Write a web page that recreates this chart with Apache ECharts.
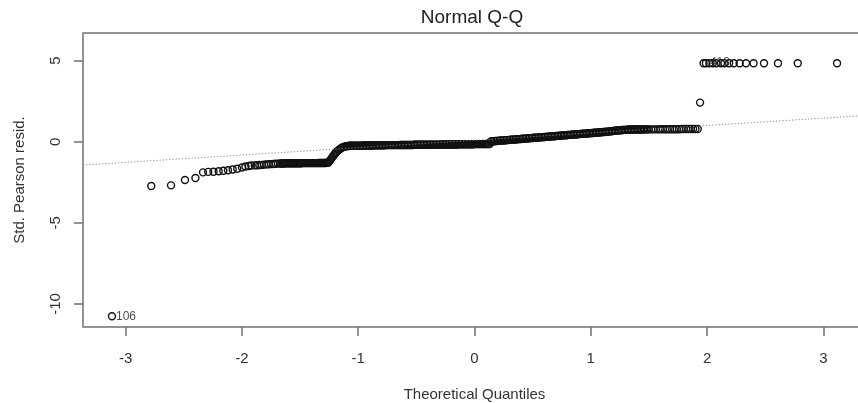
<!DOCTYPE html>
<html><head><meta charset="utf-8">
<script src="https://cdn.jsdelivr.net/npm/echarts@6/dist/echarts.min.js"></script>
<style>html,body{margin:0;padding:0;background:#fff}#c{width:858px;height:403px}</style>
</head><body><div id="c"></div>
<script>
const titleText = 'Normal Q-Q';
const xName = 'Theoretical Quantiles';
const yName = 'Std. Pearson resid.';
const xTicks = [-3, -2, -1, 0, 1, 2, 3];
const yTicks = [-10, -5, 0, 5];

// lower tail
const leftTail = [[-3.118,-10.76],[-2.78,-2.73],[-2.61,-2.69],[-2.49,-2.36],[-2.40,-2.24]];
// lower shelf
const lowerShelf = [[-2.335,-1.89],[-2.29,-1.86],[-2.245,-1.85],[-2.20,-1.82],[-2.16,-1.79],[-2.12,-1.76],[-2.08,-1.71],[-2.04,-1.67],
  [-2.00,-1.59],[-1.97,-1.53],[-1.94,-1.50],[-1.92,-1.47],[-1.89,-1.46],[-1.87,-1.45],[-1.85,-1.44],[-1.83,-1.43],[-1.81,-1.41],
  [-1.79,-1.40],[-1.77,-1.39],[-1.75,-1.38],[-1.73,-1.37],[-1.71,-1.36],[-1.69,-1.35],[-1.67,-1.34],
  [-1.66,-1.34],[-1.65,-1.34],[-1.64,-1.34],[-1.63,-1.33],[-1.62,-1.33],[-1.61,-1.33],[-1.60,-1.33],[-1.59,-1.33],[-1.58,-1.33],
  [-1.57,-1.33],[-1.56,-1.33],[-1.55,-1.33],[-1.54,-1.33],[-1.53,-1.33],[-1.52,-1.33],[-1.51,-1.33],[-1.50,-1.33],[-1.49,-1.33],
  [-1.48,-1.32],[-1.47,-1.32],[-1.46,-1.32],[-1.45,-1.32],[-1.44,-1.32],[-1.43,-1.32],[-1.42,-1.32],[-1.41,-1.32],[-1.40,-1.32],
  [-1.39,-1.32],[-1.38,-1.32],[-1.37,-1.32],[-1.36,-1.32],[-1.35,-1.32],[-1.34,-1.31],[-1.33,-1.31],[-1.32,-1.31],[-1.31,-1.31],
  [-1.30,-1.31],[-1.29,-1.31],[-1.28,-1.31],[-1.27,-1.30],[-1.26,-1.30]];
// steep rise
const rise = [[-1.255,-1.27],[-1.245,-1.18],[-1.235,-1.08],[-1.225,-0.98],[-1.215,-0.88],[-1.205,-0.79],[-1.195,-0.70],
  [-1.185,-0.62],[-1.175,-0.55],[-1.165,-0.49],[-1.155,-0.44],[-1.145,-0.39],[-1.135,-0.35],[-1.125,-0.32],[-1.115,-0.30],
  [-1.105,-0.28],[-1.095,-0.27],[-1.085,-0.26],[-1.075,-0.25],[-1.065,-0.24]];
// middle flat band
const middle = [
  [-1.06,-0.24],[-1.05,-0.24],[-1.04,-0.24],[-1.03,-0.24],[-1.02,-0.24],[-1.01,-0.24],[-1.00,-0.24],[-0.99,-0.24],[-0.98,-0.24],[-0.97,-0.24],
  [-0.96,-0.23],[-0.95,-0.23],[-0.94,-0.23],[-0.93,-0.23],[-0.92,-0.23],[-0.91,-0.23],[-0.90,-0.23],[-0.89,-0.23],[-0.88,-0.23],[-0.87,-0.23],
  [-0.86,-0.22],[-0.85,-0.22],[-0.84,-0.22],[-0.83,-0.22],[-0.82,-0.22],[-0.81,-0.22],[-0.80,-0.22],[-0.79,-0.22],[-0.78,-0.22],[-0.77,-0.22],
  [-0.76,-0.21],[-0.75,-0.21],[-0.74,-0.21],[-0.73,-0.21],[-0.72,-0.21],[-0.71,-0.21],[-0.70,-0.21],[-0.69,-0.21],[-0.68,-0.21],[-0.67,-0.21],
  [-0.66,-0.21],[-0.65,-0.21],
  [-0.64,-0.20],[-0.63,-0.20],[-0.62,-0.20],[-0.61,-0.20],[-0.60,-0.20],[-0.59,-0.20],[-0.58,-0.20],[-0.57,-0.20],[-0.56,-0.20],[-0.55,-0.20],
  [-0.54,-0.20],[-0.53,-0.20],
  [-0.52,-0.19],[-0.51,-0.19],[-0.50,-0.19],[-0.49,-0.19],[-0.48,-0.19],[-0.47,-0.19],[-0.46,-0.19],[-0.45,-0.19],[-0.44,-0.19],[-0.43,-0.19],
  [-0.42,-0.19],[-0.41,-0.19],
  [-0.40,-0.18],[-0.39,-0.18],[-0.38,-0.18],[-0.37,-0.18],[-0.36,-0.18],[-0.35,-0.18],[-0.34,-0.18],[-0.33,-0.18],[-0.32,-0.18],[-0.31,-0.18],
  [-0.30,-0.18],[-0.29,-0.18],
  [-0.28,-0.17],[-0.27,-0.17],[-0.26,-0.17],[-0.25,-0.17],[-0.24,-0.17],[-0.23,-0.17],[-0.22,-0.17],[-0.21,-0.17],[-0.20,-0.17],[-0.19,-0.17],
  [-0.18,-0.17],[-0.17,-0.17],[-0.16,-0.17],[-0.15,-0.17],
  [-0.14,-0.16],[-0.13,-0.16],[-0.12,-0.16],[-0.11,-0.16],[-0.10,-0.16],[-0.09,-0.16],[-0.08,-0.16],[-0.07,-0.16],[-0.06,-0.16],[-0.05,-0.16],
  [-0.04,-0.16],[-0.03,-0.16],[-0.02,-0.16],[-0.01,-0.16],
  [0.00,-0.15],[0.01,-0.15],[0.02,-0.15],[0.03,-0.15],[0.04,-0.15],[0.05,-0.15],[0.06,-0.15],[0.07,-0.15],[0.08,-0.15],[0.09,-0.15],
  [0.10,-0.15],[0.11,-0.15],[0.12,-0.15],[0.13,-0.15]];
// upper band
const upper = [[0.14,0.01],
  [0.15,0.02],[0.16,0.03],[0.17,0.03],[0.18,0.04],[0.19,0.04],[0.20,0.05],[0.21,0.06],[0.22,0.06],[0.23,0.07],[0.24,0.07],
  [0.25,0.08],[0.26,0.09],[0.27,0.09],[0.28,0.10],[0.29,0.10],[0.30,0.11],[0.31,0.12],[0.32,0.12],[0.33,0.13],[0.34,0.13],
  [0.35,0.14],[0.36,0.15],[0.37,0.15],[0.38,0.16],[0.39,0.16],[0.40,0.17],[0.41,0.18],[0.42,0.18],[0.43,0.19],[0.44,0.19],
  [0.45,0.20],[0.46,0.21],[0.47,0.21],[0.48,0.22],[0.49,0.22],[0.50,0.23],[0.51,0.24],[0.52,0.24],[0.53,0.25],[0.54,0.25],
  [0.55,0.26],[0.56,0.27],[0.57,0.27],[0.58,0.28],[0.59,0.28],[0.60,0.29],[0.61,0.30],[0.62,0.30],[0.63,0.31],[0.64,0.31],
  [0.65,0.32],[0.66,0.33],[0.67,0.33],[0.68,0.34],[0.69,0.34],[0.70,0.35],[0.71,0.36],[0.72,0.36],[0.73,0.37],[0.74,0.37],
  [0.75,0.38],[0.76,0.39],[0.77,0.39],[0.78,0.40],[0.79,0.40],[0.80,0.41],[0.81,0.42],[0.82,0.42],[0.83,0.43],[0.84,0.43],
  [0.85,0.44],[0.86,0.45],[0.87,0.45],[0.88,0.46],[0.89,0.46],[0.90,0.47],[0.91,0.48],[0.92,0.48],[0.93,0.49],[0.94,0.49],
  [0.95,0.50],[0.96,0.51],[0.97,0.51],[0.98,0.52],[0.99,0.52],[1.00,0.53],[1.01,0.54],[1.02,0.54],[1.03,0.55],[1.04,0.55],
  [1.05,0.56],[1.06,0.57],[1.07,0.57],[1.08,0.58],[1.09,0.58],[1.10,0.59],[1.11,0.60],[1.12,0.60],[1.13,0.61],[1.14,0.61],
  [1.15,0.62],[1.16,0.63],[1.17,0.64],[1.18,0.65],[1.19,0.66],[1.20,0.67],[1.21,0.68],[1.22,0.69],[1.23,0.69],[1.24,0.70],
  [1.25,0.71],[1.26,0.71],[1.27,0.72],[1.28,0.72],[1.29,0.73],[1.30,0.73],[1.31,0.74],[1.32,0.74],[1.33,0.75],[1.34,0.75],
  [1.35,0.75],[1.36,0.75],[1.37,0.75],[1.38,0.75],[1.39,0.75],[1.40,0.75],[1.41,0.75],[1.42,0.75],[1.43,0.75],[1.44,0.75],
  [1.45,0.76],[1.46,0.76],[1.47,0.76],[1.48,0.76],[1.49,0.76],[1.50,0.76],
  [1.52,0.76],[1.54,0.76],[1.56,0.76],[1.58,0.76],[1.60,0.77],[1.62,0.77],[1.64,0.77],[1.66,0.77],[1.68,0.77],[1.70,0.77],
  [1.72,0.77],[1.74,0.77],[1.76,0.77],[1.78,0.78],[1.80,0.78],[1.82,0.78],[1.84,0.78],[1.86,0.78],[1.88,0.78],[1.90,0.78],[1.92,0.78]];
// upper tail
const upperTail = [[1.94,2.41],[1.97,4.84],[1.99,4.84],[2.02,4.84],[2.05,4.84],[2.08,4.84],[2.12,4.84],[2.15,4.84],[2.19,4.84],
  [2.23,4.84],[2.28,4.84],[2.335,4.84],[2.40,4.84],[2.49,4.84],[2.61,4.84],[2.78,4.84],[3.118,4.84]];
// reference line end points
const refLine = [[-3.367,-1.44],[3.367,1.62]];
// labelled points
const labelled = [[-3.118,-10.76,'106'],[1.99,4.84,'413']];

const allPoints = [].concat(leftTail, lowerShelf, rise, middle, upper, upperTail);
const FONT = '"Liberation Sans", Arial, sans-serif';

const chart = echarts.init(document.getElementById('c'), null, {renderer: 'canvas'});
chart.setOption({
  animation: false,
  backgroundColor: '#ffffff',
  grid: {left: 83, right: -8, top: 33, height: 294, show: true, borderColor: '#707070', borderWidth: 1.5,
    containLabel: false, outerBoundsMode: 'none'},
  graphic: [{type: 'text', x: 472, y: 18, style: {text: titleText, font: '19px ' + FONT, fill: '#222', textAlign: 'center', textVerticalAlign: 'middle'}}],
  xAxis: {
    type: 'value', min: -3.367, max: 3.367,
    name: xName, nameLocation: 'middle', nameGap: 60,
    nameTextStyle: {fontFamily: FONT, fontSize: 15, color: '#333'},
    axisLine: {show: false, onZero: false},
    splitLine: {show: false},
    axisTick: {show: true, inside: false, length: 9, lineStyle: {color: '#707070', width: 1.5}, customValues: xTicks},
    axisLabel: {show: true, margin: 24, fontFamily: FONT, fontSize: 15, color: '#333', customValues: xTicks, showMinLabel: true, showMaxLabel: true}
  },
  yAxis: {
    type: 'value', min: -11.42, max: 6.70,
    name: yName, nameLocation: 'middle', nameGap: 56, nameRotate: 90,
    nameTextStyle: {fontFamily: FONT, fontSize: 15, color: '#333'},
    axisLine: {show: false, onZero: false},
    splitLine: {show: false},
    axisTick: {show: true, inside: false, length: 9, lineStyle: {color: '#707070', width: 1.5}, customValues: yTicks},
    axisLabel: {show: true, margin: 20, rotate: 90, fontFamily: FONT, fontSize: 15, color: '#333', customValues: yTicks}
  },
  series: [
    {
      type: 'line', data: refLine, symbol: 'none', silent: true,
      lineStyle: {color: '#888', width: 1, type: [1.2, 2]}
    },
    {
      type: 'scatter', data: allPoints, symbol: 'circle', symbolSize: 7, silent: true,
      itemStyle: {color: 'rgba(0,0,0,0)', borderColor: '#111', borderWidth: 1.4, opacity: 1}
    },
    {
      type: 'scatter', data: labelled, symbolSize: 0, silent: true,
      label: {show: true, position: 'right', distance: 4, formatter: p => p.value[2], fontFamily: FONT, fontSize: 12, color: '#222'},
      labelLayout: {hideOverlap: false}
    }
  ]
});
</script></body></html>
